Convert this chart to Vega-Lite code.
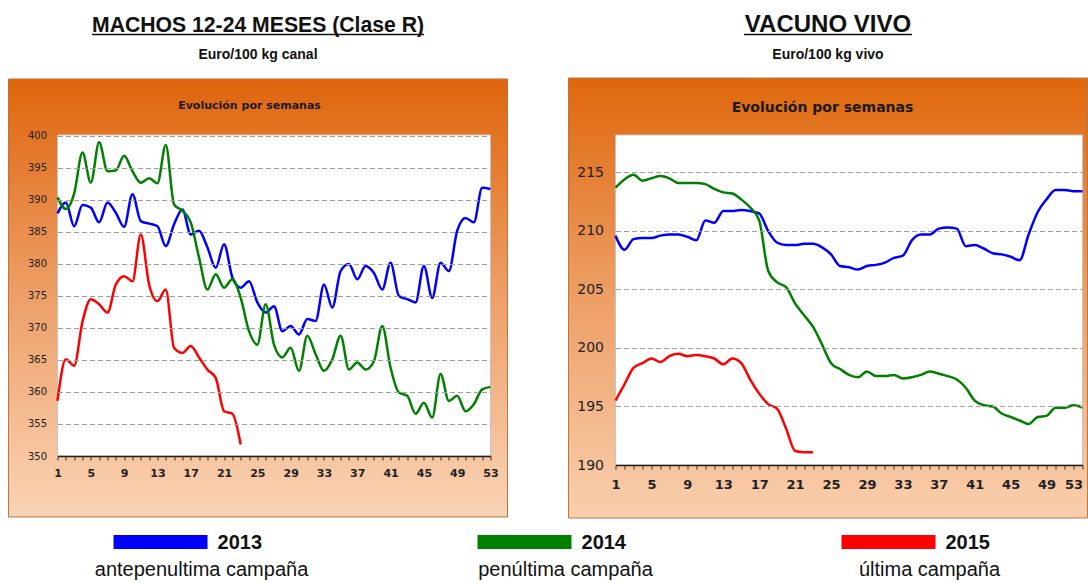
{
  "$schema": "https://vega.github.io/schema/vega-lite/v6.json",
  "background": "white",
  "padding": {"left": 7.5, "top": 13, "right": 0, "bottom": 0},
  "bounds": "full",
  "spacing": 12,
  "config": {"view": {"stroke": null}},
  "datasets": {
    "machos": [
      {"semana":1,"year":2013,"precio":387.9},{"semana":2,"year":2013,"precio":389.6},{"semana":3,"year":2013,"precio":385.9},{"semana":4,"year":2013,"precio":389.2},{"semana":5,"year":2013,"precio":388.8},{"semana":6,"year":2013,"precio":386.5},{"semana":7,"year":2013,"precio":389.6},{"semana":8,"year":2013,"precio":388.0},{"semana":9,"year":2013,"precio":385.8},{"semana":10,"year":2013,"precio":390.9},{"semana":11,"year":2013,"precio":386.7},{"semana":12,"year":2013,"precio":386.3},{"semana":13,"year":2013,"precio":385.9},{"semana":14,"year":2013,"precio":382.8},{"semana":15,"year":2013,"precio":386.2},{"semana":16,"year":2013,"precio":388.5},{"semana":17,"year":2013,"precio":384.6},{"semana":18,"year":2013,"precio":385.2},{"semana":19,"year":2013,"precio":382.6},{"semana":20,"year":2013,"precio":379.4},{"semana":21,"year":2013,"precio":383.1},{"semana":22,"year":2013,"precio":377.9},{"semana":23,"year":2013,"precio":376.3},{"semana":24,"year":2013,"precio":377.3},{"semana":25,"year":2013,"precio":374.0},{"semana":26,"year":2013,"precio":372.4},{"semana":27,"year":2013,"precio":373.4},{"semana":28,"year":2013,"precio":369.5},{"semana":29,"year":2013,"precio":370.3},{"semana":30,"year":2013,"precio":369.0},{"semana":31,"year":2013,"precio":371.4},{"semana":32,"year":2013,"precio":371.1},{"semana":33,"year":2013,"precio":376.8},{"semana":34,"year":2013,"precio":373.2},{"semana":35,"year":2013,"precio":378.9},{"semana":36,"year":2013,"precio":380.0},{"semana":37,"year":2013,"precio":377.6},{"semana":38,"year":2013,"precio":379.7},{"semana":39,"year":2013,"precio":378.6},{"semana":40,"year":2013,"precio":376.0},{"semana":41,"year":2013,"precio":380.2},{"semana":42,"year":2013,"precio":375.0},{"semana":43,"year":2013,"precio":374.5},{"semana":44,"year":2013,"precio":374.0},{"semana":45,"year":2013,"precio":379.7},{"semana":46,"year":2013,"precio":374.7},{"semana":47,"year":2013,"precio":380.2},{"semana":48,"year":2013,"precio":378.9},{"semana":49,"year":2013,"precio":385.2},{"semana":50,"year":2013,"precio":387.2},{"semana":51,"year":2013,"precio":386.5},{"semana":52,"year":2013,"precio":391.9},{"semana":53,"year":2013,"precio":391.7},
      {"semana":1,"year":2014,"precio":390.4},{"semana":2,"year":2014,"precio":388.6},{"semana":3,"year":2014,"precio":391.0},{"semana":4,"year":2014,"precio":397.4},{"semana":5,"year":2014,"precio":392.7},{"semana":6,"year":2014,"precio":399.0},{"semana":7,"year":2014,"precio":394.5},{"semana":8,"year":2014,"precio":394.6},{"semana":9,"year":2014,"precio":396.9},{"semana":10,"year":2014,"precio":394.5},{"semana":11,"year":2014,"precio":392.7},{"semana":12,"year":2014,"precio":393.4},{"semana":13,"year":2014,"precio":392.6},{"semana":14,"year":2014,"precio":398.6},{"semana":15,"year":2014,"precio":389.3},{"semana":16,"year":2014,"precio":388.3},{"semana":17,"year":2014,"precio":386.5},{"semana":18,"year":2014,"precio":381.0},{"semana":19,"year":2014,"precio":376.0},{"semana":20,"year":2014,"precio":378.4},{"semana":21,"year":2014,"precio":376.3},{"semana":22,"year":2014,"precio":377.6},{"semana":23,"year":2014,"precio":374.7},{"semana":24,"year":2014,"precio":369.5},{"semana":25,"year":2014,"precio":367.4},{"semana":26,"year":2014,"precio":373.7},{"semana":27,"year":2014,"precio":367.4},{"semana":28,"year":2014,"precio":365.4},{"semana":29,"year":2014,"precio":366.9},{"semana":30,"year":2014,"precio":363.3},{"semana":31,"year":2014,"precio":368.8},{"semana":32,"year":2014,"precio":365.9},{"semana":33,"year":2014,"precio":363.3},{"semana":34,"year":2014,"precio":365.1},{"semana":35,"year":2014,"precio":368.8},{"semana":36,"year":2014,"precio":363.5},{"semana":37,"year":2014,"precio":364.6},{"semana":38,"year":2014,"precio":363.5},{"semana":39,"year":2014,"precio":364.8},{"semana":40,"year":2014,"precio":370.3},{"semana":41,"year":2014,"precio":363.8},{"semana":42,"year":2014,"precio":359.9},{"semana":43,"year":2014,"precio":359.4},{"semana":44,"year":2014,"precio":356.6},{"semana":45,"year":2014,"precio":358.3},{"semana":46,"year":2014,"precio":356.0},{"semana":47,"year":2014,"precio":362.8},{"semana":48,"year":2014,"precio":358.6},{"semana":49,"year":2014,"precio":359.4},{"semana":50,"year":2014,"precio":357.0},{"semana":51,"year":2014,"precio":358.1},{"semana":52,"year":2014,"precio":360.4},{"semana":53,"year":2014,"precio":360.8},
      {"semana":1,"year":2015,"precio":358.6},{"semana":2,"year":2015,"precio":365.1},{"semana":3,"year":2015,"precio":364.1},{"semana":4,"year":2015,"precio":371.0},{"semana":5,"year":2015,"precio":374.5},{"semana":6,"year":2015,"precio":373.7},{"semana":7,"year":2015,"precio":372.4},{"semana":8,"year":2015,"precio":376.8},{"semana":9,"year":2015,"precio":378.1},{"semana":10,"year":2015,"precio":377.3},{"semana":11,"year":2015,"precio":384.6},{"semana":12,"year":2015,"precio":376.8},{"semana":13,"year":2015,"precio":374.2},{"semana":14,"year":2015,"precio":376.0},{"semana":15,"year":2015,"precio":366.9},{"semana":16,"year":2015,"precio":366.1},{"semana":17,"year":2015,"precio":367.2},{"semana":18,"year":2015,"precio":365.4},{"semana":19,"year":2015,"precio":363.5},{"semana":20,"year":2015,"precio":362.2},{"semana":21,"year":2015,"precio":357.0},{"semana":22,"year":2015,"precio":356.6},{"semana":23,"year":2015,"precio":351.8}
    ],
    "vacuno": [
      {"semana":1,"year":2013,"precio":209.6},{"semana":2,"year":2013,"precio":208.4},{"semana":3,"year":2013,"precio":209.3},{"semana":4,"year":2013,"precio":209.4},{"semana":5,"year":2013,"precio":209.4},{"semana":6,"year":2013,"precio":209.6},{"semana":7,"year":2013,"precio":209.7},{"semana":8,"year":2013,"precio":209.7},{"semana":9,"year":2013,"precio":209.5},{"semana":10,"year":2013,"precio":209.2},{"semana":11,"year":2013,"precio":210.9},{"semana":12,"year":2013,"precio":210.7},{"semana":13,"year":2013,"precio":211.7},{"semana":14,"year":2013,"precio":211.7},{"semana":15,"year":2013,"precio":211.8},{"semana":16,"year":2013,"precio":211.7},{"semana":17,"year":2013,"precio":211.5},{"semana":18,"year":2013,"precio":210.0},{"semana":19,"year":2013,"precio":209.0},{"semana":20,"year":2013,"precio":208.8},{"semana":21,"year":2013,"precio":208.8},{"semana":22,"year":2013,"precio":208.9},{"semana":23,"year":2013,"precio":208.9},{"semana":24,"year":2013,"precio":208.6},{"semana":25,"year":2013,"precio":208.0},{"semana":26,"year":2013,"precio":207.0},{"semana":27,"year":2013,"precio":206.9},{"semana":28,"year":2013,"precio":206.7},{"semana":29,"year":2013,"precio":207.0},{"semana":30,"year":2013,"precio":207.1},{"semana":31,"year":2013,"precio":207.3},{"semana":32,"year":2013,"precio":207.7},{"semana":33,"year":2013,"precio":207.9},{"semana":34,"year":2013,"precio":209.2},{"semana":35,"year":2013,"precio":209.7},{"semana":36,"year":2013,"precio":209.7},{"semana":37,"year":2013,"precio":210.2},{"semana":38,"year":2013,"precio":210.3},{"semana":39,"year":2013,"precio":210.2},{"semana":40,"year":2013,"precio":208.7},{"semana":41,"year":2013,"precio":208.8},{"semana":42,"year":2013,"precio":208.5},{"semana":43,"year":2013,"precio":208.1},{"semana":44,"year":2013,"precio":208.0},{"semana":45,"year":2013,"precio":207.8},{"semana":46,"year":2013,"precio":207.5},{"semana":47,"year":2013,"precio":209.7},{"semana":48,"year":2013,"precio":211.6},{"semana":49,"year":2013,"precio":212.7},{"semana":50,"year":2013,"precio":213.5},{"semana":51,"year":2013,"precio":213.5},{"semana":52,"year":2013,"precio":213.4},{"semana":53,"year":2013,"precio":213.4},
      {"semana":1,"year":2014,"precio":213.7},{"semana":2,"year":2014,"precio":214.4},{"semana":3,"year":2014,"precio":214.8},{"semana":4,"year":2014,"precio":214.3},{"semana":5,"year":2014,"precio":214.5},{"semana":6,"year":2014,"precio":214.7},{"semana":7,"year":2014,"precio":214.5},{"semana":8,"year":2014,"precio":214.1},{"semana":9,"year":2014,"precio":214.1},{"semana":10,"year":2014,"precio":214.1},{"semana":11,"year":2014,"precio":214.0},{"semana":12,"year":2014,"precio":213.6},{"semana":13,"year":2014,"precio":213.3},{"semana":14,"year":2014,"precio":213.2},{"semana":15,"year":2014,"precio":212.7},{"semana":16,"year":2014,"precio":212.0},{"semana":17,"year":2014,"precio":210.9},{"semana":18,"year":2014,"precio":206.6},{"semana":19,"year":2014,"precio":205.6},{"semana":20,"year":2014,"precio":205.2},{"semana":21,"year":2014,"precio":203.8},{"semana":22,"year":2014,"precio":202.8},{"semana":23,"year":2014,"precio":201.8},{"semana":24,"year":2014,"precio":200.3},{"semana":25,"year":2014,"precio":198.7},{"semana":26,"year":2014,"precio":198.2},{"semana":27,"year":2014,"precio":197.7},{"semana":28,"year":2014,"precio":197.5},{"semana":29,"year":2014,"precio":198.0},{"semana":30,"year":2014,"precio":197.6},{"semana":31,"year":2014,"precio":197.6},{"semana":32,"year":2014,"precio":197.7},{"semana":33,"year":2014,"precio":197.4},{"semana":34,"year":2014,"precio":197.5},{"semana":35,"year":2014,"precio":197.7},{"semana":36,"year":2014,"precio":198.0},{"semana":37,"year":2014,"precio":197.8},{"semana":38,"year":2014,"precio":197.6},{"semana":39,"year":2014,"precio":197.3},{"semana":40,"year":2014,"precio":196.6},{"semana":41,"year":2014,"precio":195.5},{"semana":42,"year":2014,"precio":195.1},{"semana":43,"year":2014,"precio":195.0},{"semana":44,"year":2014,"precio":194.4},{"semana":45,"year":2014,"precio":194.1},{"semana":46,"year":2014,"precio":193.8},{"semana":47,"year":2014,"precio":193.5},{"semana":48,"year":2014,"precio":194.1},{"semana":49,"year":2014,"precio":194.2},{"semana":50,"year":2014,"precio":194.9},{"semana":51,"year":2014,"precio":194.9},{"semana":52,"year":2014,"precio":195.1},{"semana":53,"year":2014,"precio":194.9},
      {"semana":1,"year":2015,"precio":195.5},{"semana":2,"year":2015,"precio":196.9},{"semana":3,"year":2015,"precio":198.3},{"semana":4,"year":2015,"precio":198.7},{"semana":5,"year":2015,"precio":199.1},{"semana":6,"year":2015,"precio":198.8},{"semana":7,"year":2015,"precio":199.3},{"semana":8,"year":2015,"precio":199.5},{"semana":9,"year":2015,"precio":199.3},{"semana":10,"year":2015,"precio":199.4},{"semana":11,"year":2015,"precio":199.3},{"semana":12,"year":2015,"precio":199.1},{"semana":13,"year":2015,"precio":198.6},{"semana":14,"year":2015,"precio":199.1},{"semana":15,"year":2015,"precio":198.7},{"semana":16,"year":2015,"precio":197.3},{"semana":17,"year":2015,"precio":196.1},{"semana":18,"year":2015,"precio":195.2},{"semana":19,"year":2015,"precio":194.8},{"semana":20,"year":2015,"precio":193.1},{"semana":21,"year":2015,"precio":191.2},{"semana":22,"year":2015,"precio":191.1},{"semana":23,"year":2015,"precio":191.1}
    ],
    "leyenda": [
      {"year": 2013, "desc": "antepenultima campaña"},
      {"year": 2014, "desc": "penúltima campaña"},
      {"year": 2015, "desc": "última campaña"}
    ]
  },
  "vconcat": [
    {
      "bounds": "flush",
      "spacing": 125,
      "hconcat": [
        {
          "width": 433,
          "height": 321,
          "layer": [
            {
              "data": {"values": [{}]},
              "mark": {"type": "rect", "fill": {"gradient": "linear", "x1": 0, "y1": 0, "x2": 0, "y2": 1, "stops": [{"offset": 0, "color": "#df650c"}, {"offset": 0.45, "color": "#ec9a60"}, {"offset": 1, "color": "#fad3b6"}]}, "stroke": "#b9753f", "strokeWidth": 1},
              "encoding": {"x": {"datum": -4.885, "type": "quantitative", "title": null}, "x2": {"datum": 55.04}, "y": {"datum": 408.9, "type": "quantitative", "title": null}, "y2": {"datum": 340.47}}
            },
            {
              "data": {"values": [{}]},
              "mark": {"type": "rect", "fill": "white", "stroke": "#c6c6c6", "strokeWidth": 1},
              "encoding": {"x": {"datum": 1, "type": "quantitative", "title": null}, "x2": {"datum": 53}, "y": {"datum": 350, "type": "quantitative", "title": null}, "y2": {"datum": 400.15}}
            },
            {
              "data": {"values": [{}]},
              "mark": {"type": "text", "text": "Evolución por semanas", "font": "DejaVu Sans", "fontSize": 11, "fontWeight": "bold", "color": "#1a1a1a", "align": "center", "baseline": "middle"},
              "encoding": {"x": {"datum": 24.06, "type": "quantitative", "title": null}, "y": {"datum": 404.68, "type": "quantitative", "title": null}}
            },
            {
              "data": {"values": [{}]},
              "mark": {"type": "text", "text": "MACHOS 12-24 MESES (Clase R)", "font": "Liberation Sans", "fontSize": 21.2, "fontWeight": "bold", "color": "#111111", "align": "center", "baseline": "alphabetic"},
              "encoding": {"x": {"datum": 25.08, "type": "quantitative", "title": null}, "y": {"datum": 416.24, "type": "quantitative", "title": null}}
            },
            {
              "data": {"values": [{}]},
              "mark": {"type": "rule", "color": "#111111", "strokeWidth": 1.5},
              "encoding": {"x": {"datum": 5.14, "type": "quantitative", "title": null}, "x2": {"datum": 45.01}, "y": {"datum": 415.85, "type": "quantitative", "title": null}}
            },
            {
              "data": {"values": [{}]},
              "mark": {"type": "text", "text": "Euro/100 kg canal", "font": "Liberation Sans", "fontSize": 14, "fontWeight": "bold", "color": "#111111", "align": "center", "baseline": "alphabetic"},
              "encoding": {"x": {"datum": 25.08, "type": "quantitative", "title": null}, "y": {"datum": 412.02, "type": "quantitative", "title": null}}
            },
            {
              "data": {"name": "machos"},
              "mark": {"type": "line", "interpolate": "monotone", "strokeWidth": 2.5},
              "encoding": {
                "x": {"field": "semana", "type": "quantitative", "scale": {"domain": [1, 53], "nice": false, "zero": false}, "axis": {"title": null, "values": [1,2,3,4,5,6,7,8,9,10,11,12,13,14,15,16,17,18,19,20,21,22,23,24,25,26,27,28,29,30,31,32,33,34,35,36,37,38,39,40,41,42,43,44,45,46,47,48,49,50,51,52,53], "tickCount": 100, "format": "d", "labelExpr": "(datum.value - 1) % 4 == 0 ? datum.label : ''", "grid": false, "domainColor": "#222222", "domainWidth": 1.5, "tickColor": "#333333", "tickSize": 4, "tickWidth": 1, "labelFont": "DejaVu Sans", "labelFontSize": 11, "labelFontWeight": "bold", "labelColor": "#222222", "labelPadding": 7, "labelFlush": false, "labelOverlap": false, "zindex": 1}},
                "y": {"field": "precio", "type": "quantitative", "scale": {"domain": [350, 400.15], "nice": false, "zero": false}, "axis": {"title": null, "values": [350,355,360,365,370,375,380,385,390,395,400], "tickCount": 100, "format": "d", "grid": true, "gridColor": "#a0a0a0", "gridDash": [5, 3], "gridWidth": 1, "domain": false, "ticks": false, "labelFont": "DejaVu Sans", "labelFontSize": 10, "labelColor": "#222222", "labelPadding": 11, "labelOverlap": false, "zindex": 1}},
                "color": {"field": "year", "type": "nominal", "scale": {"domain": [2013, 2014, 2015], "range": ["#0000ff", "#008000", "#ff0000"]}, "legend": null}
              }
            }
          ]
        },
        {
          "width": 467,
          "height": 330,
          "layer": [
            {
              "data": {"values": [{}]},
              "mark": {"type": "rect", "fill": {"gradient": "linear", "x1": 0, "y1": 0, "x2": 0, "y2": 1, "stops": [{"offset": 0, "color": "#df670c"}, {"offset": 0.45, "color": "#ec9a5e"}, {"offset": 1, "color": "#f9cfae"}]}, "stroke": "#b9753f", "strokeWidth": 1},
              "encoding": {"x": {"datum": -4.23, "type": "quantitative", "title": null}, "x2": {"datum": 53.56}, "y": {"datum": 223.07, "type": "quantitative", "title": null}, "y2": {"datum": 185.47}}
            },
            {
              "data": {"values": [{}]},
              "mark": {"type": "rect", "fill": "white", "stroke": "#c6c6c6", "strokeWidth": 1},
              "encoding": {"x": {"datum": 1, "type": "quantitative", "title": null}, "x2": {"datum": 53}, "y": {"datum": 190, "type": "quantitative", "title": null}, "y2": {"datum": 218.2}}
            },
            {
              "data": {"values": [{}]},
              "mark": {"type": "text", "text": "Evolución por semanas", "font": "DejaVu Sans", "fontSize": 14, "fontWeight": "bold", "color": "#1a1a1a", "align": "center", "baseline": "middle"},
              "encoding": {"x": {"datum": 24.05, "type": "quantitative", "title": null}, "y": {"datum": 220.5, "type": "quantitative", "title": null}}
            },
            {
              "data": {"values": [{}]},
              "mark": {"type": "text", "text": "VACUNO VIVO", "font": "Liberation Sans", "fontSize": 24, "fontWeight": "bold", "color": "#111111", "align": "center", "baseline": "alphabetic"},
              "encoding": {"x": {"datum": 24.66, "type": "quantitative", "title": null}, "y": {"datum": 227.0, "type": "quantitative", "title": null}}
            },
            {
              "data": {"values": [{}]},
              "mark": {"type": "rule", "color": "#111111", "strokeWidth": 1.5},
              "encoding": {"x": {"datum": 15.31, "type": "quantitative", "title": null}, "x2": {"datum": 34.01}, "y": {"datum": 226.79, "type": "quantitative", "title": null}}
            },
            {
              "data": {"values": [{}]},
              "mark": {"type": "text", "text": "Euro/100 kg vivo", "font": "Liberation Sans", "fontSize": 14, "fontWeight": "bold", "color": "#111111", "align": "center", "baseline": "alphabetic"},
              "encoding": {"x": {"datum": 24.66, "type": "quantitative", "title": null}, "y": {"datum": 224.70, "type": "quantitative", "title": null}}
            },
            {
              "data": {"name": "vacuno"},
              "mark": {"type": "line", "interpolate": "monotone", "strokeWidth": 2.5},
              "encoding": {
                "x": {"field": "semana", "type": "quantitative", "scale": {"domain": [1, 53], "nice": false, "zero": false}, "axis": {"title": null, "values": [1,2,3,4,5,6,7,8,9,10,11,12,13,14,15,16,17,18,19,20,21,22,23,24,25,26,27,28,29,30,31,32,33,34,35,36,37,38,39,40,41,42,43,44,45,46,47,48,49,50,51,52,53], "tickCount": 100, "format": "d", "labelExpr": "(datum.value - 1) % 4 == 0 ? datum.label : ''", "labelAlign": {"condition": {"test": "datum.value == 53", "value": "right"}, "value": "center"}, "grid": false, "domainColor": "#222222", "domainWidth": 1.5, "tickColor": "#333333", "tickSize": 4, "tickWidth": 1, "labelFont": "DejaVu Sans", "labelFontSize": 13, "labelFontWeight": "bold", "labelColor": "#222222", "labelPadding": 9, "labelFlush": false, "labelOverlap": false, "zindex": 1}},
                "y": {"field": "precio", "type": "quantitative", "scale": {"domain": [190, 218.2], "nice": false, "zero": false}, "axis": {"title": null, "values": [190,195,200,205,210,215], "tickCount": 100, "format": "d", "grid": true, "gridColor": "#a0a0a0", "gridDash": [5, 3], "gridWidth": 1, "domain": false, "ticks": false, "labelFont": "DejaVu Sans", "labelFontSize": 14, "labelColor": "#222222", "labelPadding": 12, "labelOverlap": false, "zindex": 1}},
                "color": {"field": "year", "type": "nominal", "scale": {"domain": [2013, 2014, 2015], "range": ["#0000ff", "#008000", "#ff0000"]}, "legend": null}
              }
            }
          ]
        }
      ]
    },
    {
      "data": {"name": "leyenda"},
      "width": 1025,
      "height": 40,
      "encoding": {"x": {"field": "year", "type": "quantitative", "scale": {"domain": [2012.5604, 2015.3764], "nice": false, "zero": false}, "axis": null}},
      "layer": [
        {
          "mark": {"type": "point", "shape": "M-1,-0.15H1V0.15H-1Z", "size": 8836, "filled": true, "opacity": 1, "strokeWidth": 0, "xOffset": -57, "yOffset": -9},
          "encoding": {"color": {"field": "year", "type": "nominal", "scale": {"domain": [2013, 2014, 2015], "range": ["#0000ff", "#008000", "#ff0000"]}, "legend": null}}
        },
        {
          "mark": {"type": "text", "align": "left", "baseline": "alphabetic", "dy": -2, "font": "Liberation Sans", "fontSize": 20, "fontWeight": "bold", "color": "#111111"},
          "encoding": {"text": {"field": "year", "type": "nominal"}}
        },
        {
          "mark": {"type": "text", "align": "center", "baseline": "alphabetic", "dx": -16, "dy": 25, "font": "Liberation Sans", "fontSize": 20, "color": "#111111"},
          "encoding": {"text": {"field": "desc", "type": "nominal"}}
        }
      ]
    }
  ]
}
